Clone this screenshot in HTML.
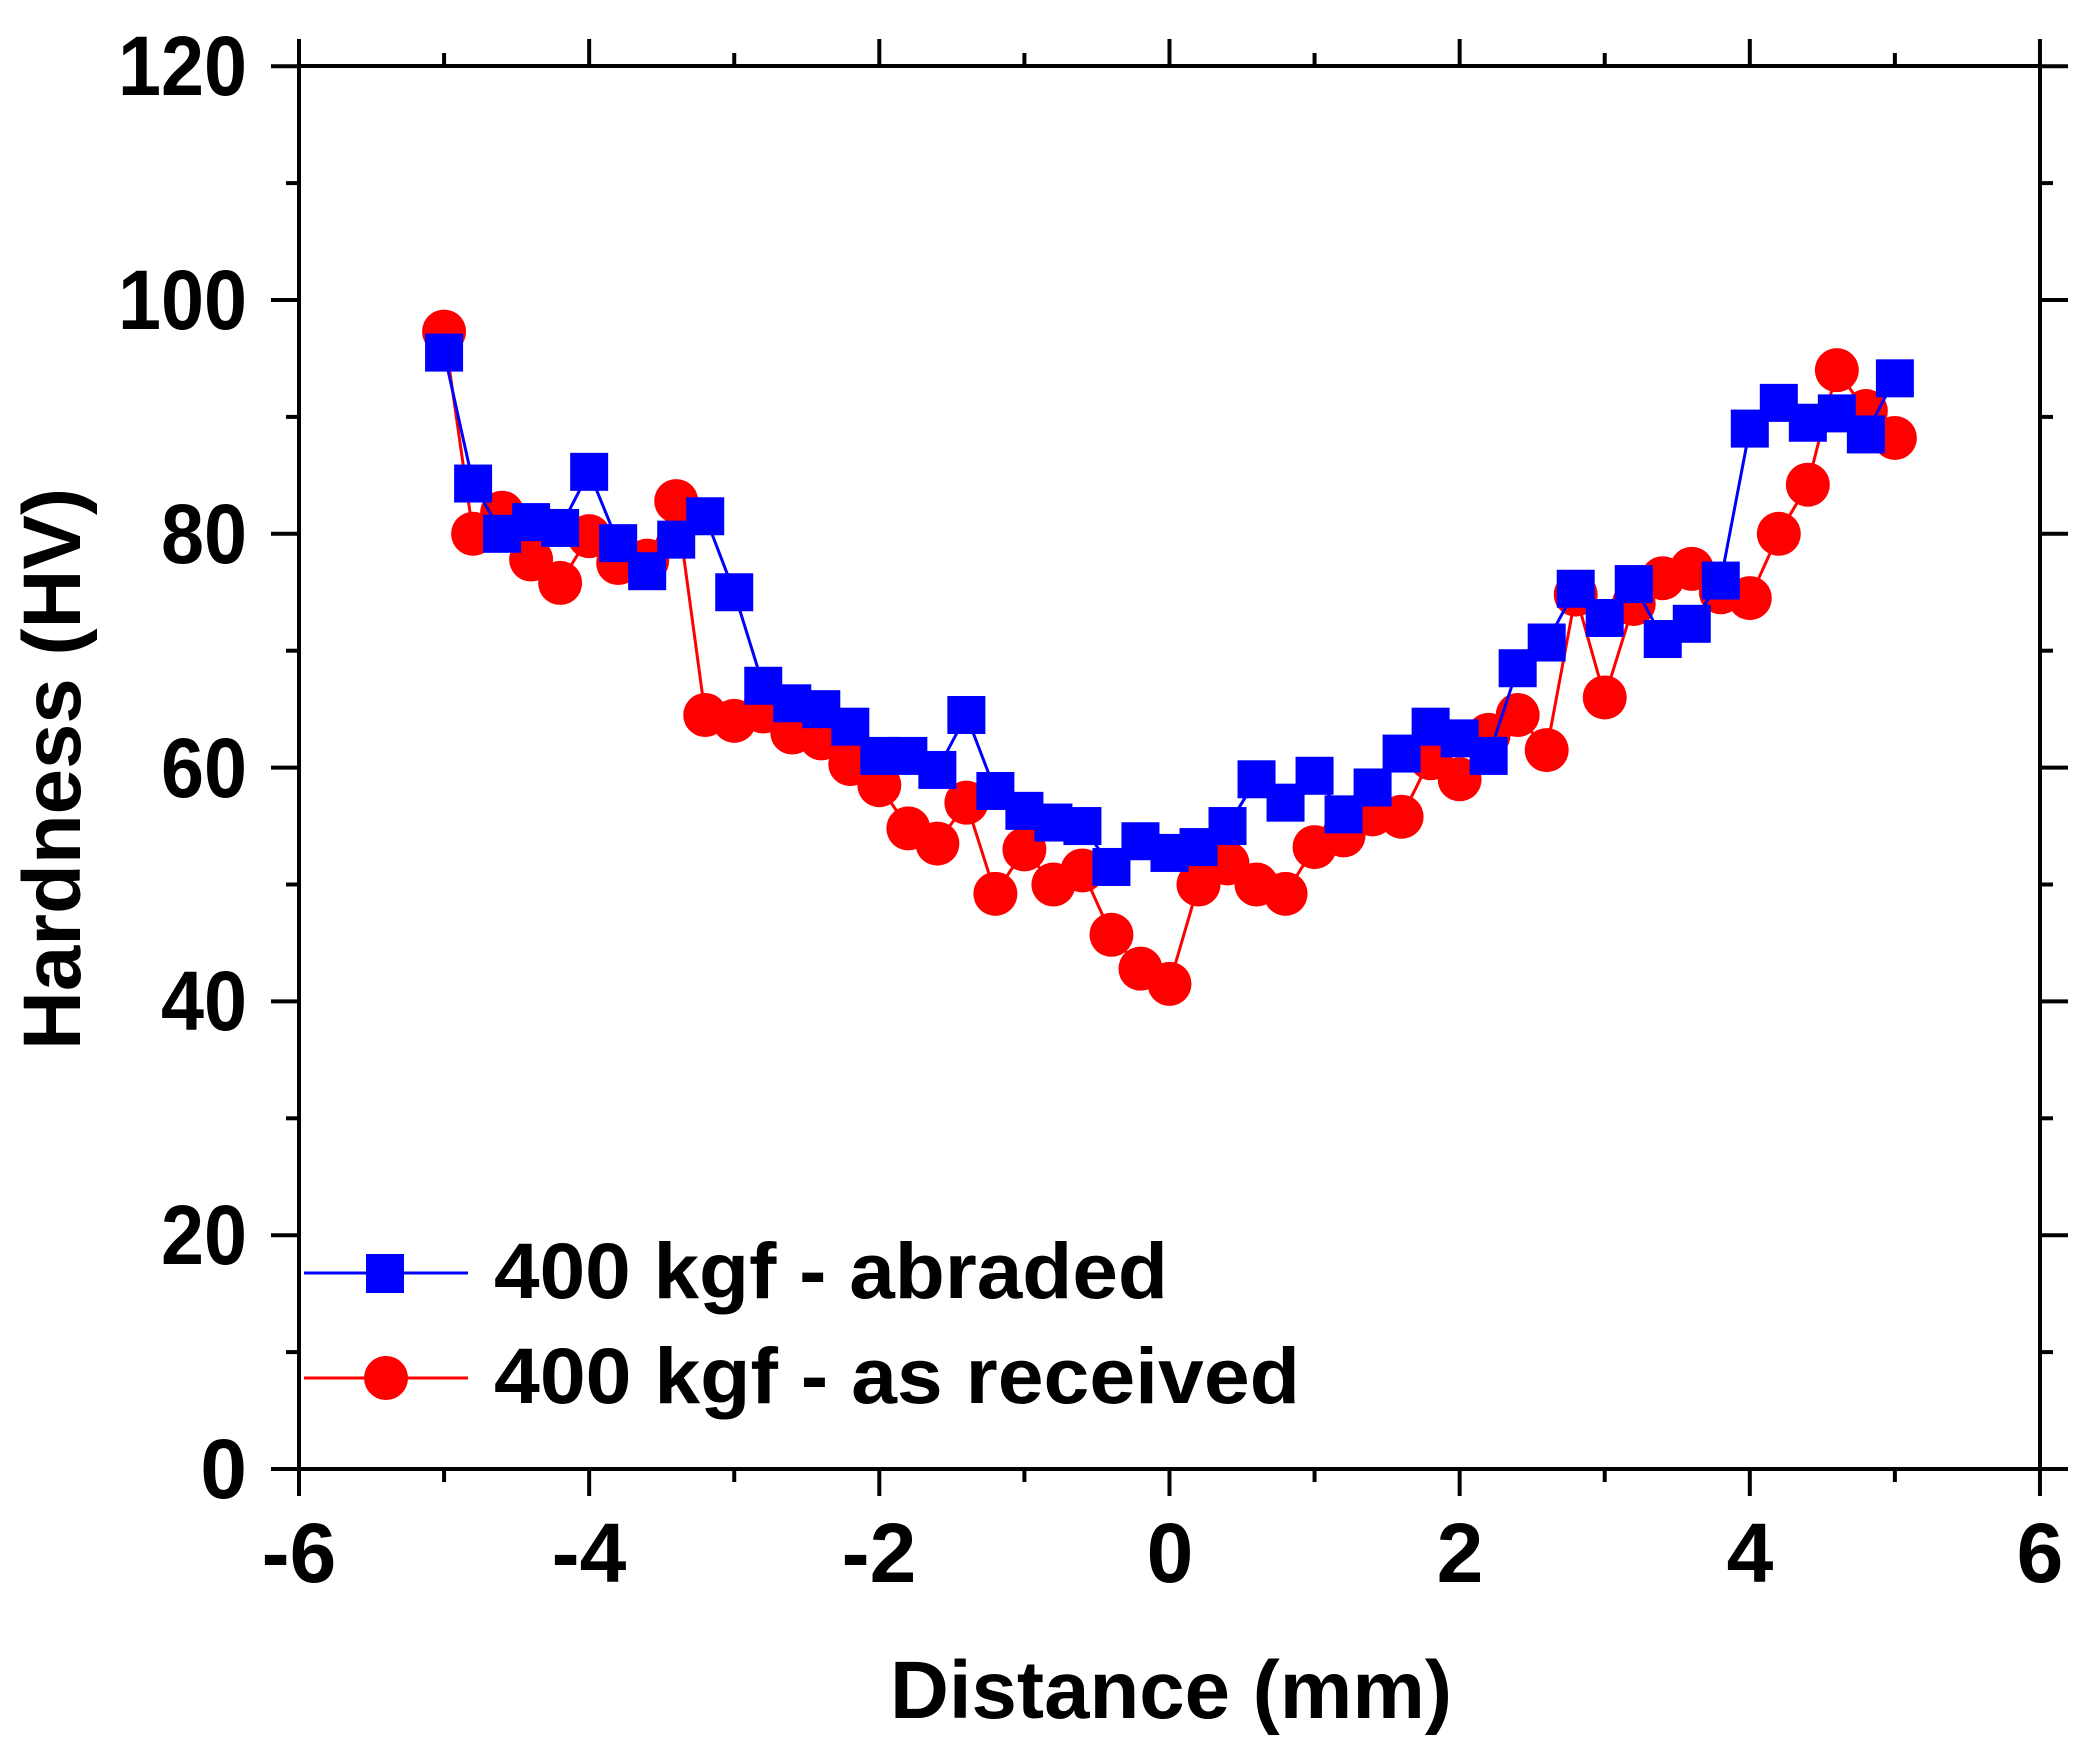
<!DOCTYPE html>
<html><head><meta charset="utf-8"><style>
html,body{margin:0;padding:0;background:#fff;}
svg{display:block;}
text{font-family:"Liberation Sans",Arial,sans-serif;font-weight:bold;fill:#000;}
</style></head><body>
<svg id="s" width="2100" height="1752" viewBox="0 0 2100 1752" xmlns="http://www.w3.org/2000/svg">
<g id="ticks" stroke="#000" stroke-width="4"></g>
<rect x="299" y="66" width="1741" height="1403" fill="none" stroke="#000" stroke-width="4"/>
<g font-size="84" text-anchor="end">
<text x="247" y="1498" >0</text>
<text x="247" y="1264" textLength="86" lengthAdjust="spacingAndGlyphs">20</text>
<text x="247" y="1030" textLength="86" lengthAdjust="spacingAndGlyphs">40</text>
<text x="247" y="797" textLength="86" lengthAdjust="spacingAndGlyphs">60</text>
<text x="247" y="563" textLength="86" lengthAdjust="spacingAndGlyphs">80</text>
<text x="247" y="329" textLength="129" lengthAdjust="spacingAndGlyphs">100</text>
<text x="247" y="95" textLength="129" lengthAdjust="spacingAndGlyphs">120</text>
</g>
<g font-size="84" text-anchor="middle">
<text x="299" y="1582">-6</text>
<text x="589" y="1582">-4</text>
<text x="879" y="1582">-2</text>
<text x="1170" y="1582">0</text>
<text x="1460" y="1582">2</text>
<text x="1750" y="1582">4</text>
<text x="2040" y="1582">6</text>
</g>
<text x="890" y="1718" font-size="82" textLength="562" lengthAdjust="spacingAndGlyphs">Distance (mm)</text>
<text transform="translate(80,1050) rotate(-90)" font-size="82" textLength="562" lengthAdjust="spacingAndGlyphs">Hardness (HV)</text>
<g id="data"></g>
<line x1="304" y1="1273" x2="468" y2="1273" stroke="#0000ff" stroke-width="3"/>
<rect x="366" y="1254" width="38" height="39" fill="#0000ff"/>
<line x1="304" y1="1378" x2="468" y2="1378" stroke="#ff0000" stroke-width="3"/>
<circle cx="386" cy="1378" r="22" fill="#ff0000"/>
<text x="494" y="1298" font-size="79" textLength="674" lengthAdjust="spacingAndGlyphs">400 kgf - abraded</text>
<text x="494" y="1403" font-size="79" textLength="806" lengthAdjust="spacingAndGlyphs">400 kgf - as received</text>
</svg>
<script>
function X(v){return 299+(v+6)*145.08;}
function Y(h){return 1469-h*11.69;}
var t=document.getElementById("ticks"),h="";
for(var v=-6;v<=6;v++){var x=X(v),L=(v%2==0)?27:13;
h+='<line x1="'+x+'" y1="1469" x2="'+x+'" y2="'+(1469+L)+'"/>';
h+='<line x1="'+x+'" y1="66" x2="'+x+'" y2="'+(66-L)+'"/>';}
for(var k=0;k<=120;k+=10){var y=Y(k),L=(k%20==0)?28:13;
h+='<line x1="299" y1="'+y+'" x2="'+(299-L)+'" y2="'+y+'"/>';
h+='<line x1="2040" y1="'+y+'" x2="'+(2040+L)+'" y2="'+y+'"/>';}
t.innerHTML=h;
var B=[95.5,84.3,80,81,80.5,85.3,79.2,76.8,79.5,81.5,75,67,65.5,65,63.5,61,61,59.8,64.5,58,56.3,55.3,55,51.5,53.7,52.7,53.2,55,59,57,59.3,56,58.3,61.2,63.5,62.5,61,68.5,70.7,75.3,72.8,75.7,71,72.3,76,89,91.2,89.5,90.3,88.5,93.3];
var R=[97.3,80,81.8,77.8,75.8,79.8,77.5,77.7,82.8,64.5,64,64.8,63,62.5,60.3,58.5,54.8,53.5,57,49.2,53,50,51.2,45.7,42.8,41.5,50,51.8,50,49.2,53.2,54.2,56,55.8,60.8,59,62.8,64.5,61.5,74.8,66,74,76.2,77,75,74.5,80,84.2,94,90.5,88.2];
var d="",pr="",pb="";
for(var i=0;i<51;i++){var x=X(-5+i*0.2);pr+=x+","+Y(R[i])+" ";pb+=x+","+Y(B[i])+" ";}
d+='<polyline points="'+pr+'" fill="none" stroke="#ff0000" stroke-width="3"/>';
for(var i=0;i<51;i++){d+='<circle cx="'+X(-5+i*0.2)+'" cy="'+Y(R[i])+'" r="22" fill="#ff0000"/>';}
d+='<polyline points="'+pb+'" fill="none" stroke="#0000ff" stroke-width="3"/>';
for(var i=0;i<51;i++){d+='<rect x="'+(X(-5+i*0.2)-19)+'" y="'+(Y(B[i])-19)+'" width="38" height="38" fill="#0000ff"/>';}
document.getElementById("data").innerHTML=d;
</script>
</body></html>
